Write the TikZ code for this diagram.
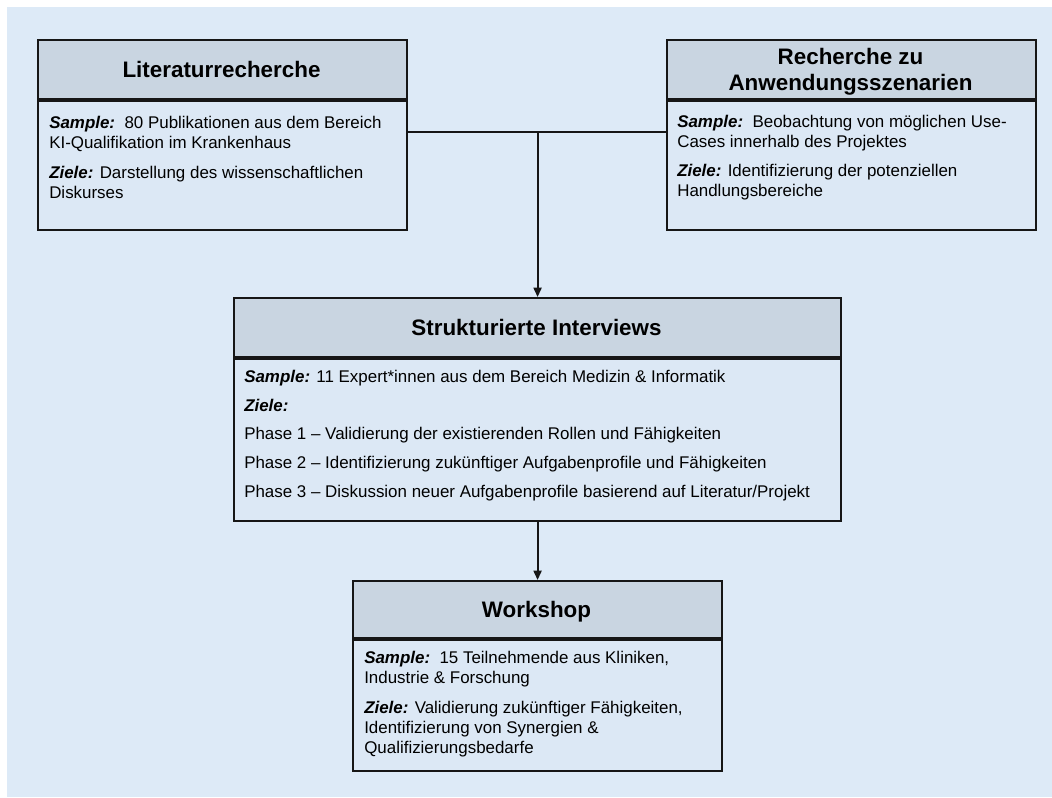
\documentclass[tikz,border=0pt]{standalone}
\usepackage{fontspec}
\setmainfont{Liberation Sans}
\usetikzlibrary{arrows.meta}
\newdimen\pxu
\pxu=0.75pt
\definecolor{canvas}{HTML}{DDEAF7}
\definecolor{headfill}{HTML}{C9D5E1}
\definecolor{bodyfill}{HTML}{DCE8F5}
\definecolor{ink}{HTML}{161616}
\tikzset{
  hdr/.style={draw=ink, fill=headfill, line width=1.6pt, anchor=north west, inner sep=0pt},
  bodybox/.style={draw=ink, fill=bodyfill, line width=1.6pt, anchor=north, inner sep=0pt},
  ttl/.style={anchor=base, inner sep=0pt, font=\fontsize{16.8}{20}\selectfont\bfseries, text=black},
  txt/.style={anchor=base west, inner sep=0pt, font=\fontsize{12.7}{15}\selectfont, text=black},
  conn/.style={draw=ink, line width=1.5pt},
  arr/.style={conn, -{Triangle[length=7pt, width=6pt]}}
}
\newcommand{\lbl}[1]{\textbf{\textit{#1}}}
\begin{document}
\begin{tikzpicture}[x=0.75pt, y=-0.75pt]
  % page and backdrop
  \useasboundingbox (0,0) rectangle (1052,797);
  \fill[white] (0,0) rectangle (1052,797);
  \fill[canvas] (7,7) rectangle (1052,797);

  % Literaturrecherche
  \node[hdr, minimum width=369\pxu, minimum height=59\pxu] (h1) at (37,39) {};
  \node[bodybox, minimum width=369\pxu, minimum height=129\pxu] (b1) at (h1.south) {};
  \node[ttl] (t1) at (221.5,77) {Literaturrecherche};
  \node[txt] (l1a) at (49,128) {\lbl{Sample:}\ \ 80 Publikationen aus dem Bereich};
  \node[txt] (l1b) at (49,148) {KI-Qualifikation im Krankenhaus};
  \node[txt] (l1c) at (49,178) {\lbl{Ziele:} Darstellung des wissenschaftlichen};
  \node[txt] (l1d) at (49,198) {Diskurses};

  % Recherche zu Anwendungsszenarien
  \node[hdr, minimum width=369\pxu, minimum height=59\pxu] (h2) at (666,39) {};
  \node[bodybox, minimum width=369\pxu, minimum height=129\pxu] (b2) at (h2.south) {};
  \node[ttl] (t2a) at (850.5,64) {Recherche zu};
  \node[ttl] (t2b) at (850.5,90) {Anwendungsszenarien};
  \node[txt] (l2a) at (677,127) {\lbl{Sample:}\ \ Beobachtung von möglichen Use-};
  \node[txt] (l2b) at (677,147) {Cases innerhalb des Projektes};
  \node[txt] (l2c) at (677,176) {\lbl{Ziele:} Identifizierung der potenziellen};
  \node[txt] (l2d) at (677,196) {Handlungsbereiche};

  % Strukturierte Interviews
  \node[hdr, minimum width=607\pxu, minimum height=59\pxu] (h3) at (233,297) {};
  \node[bodybox, minimum width=607\pxu, minimum height=162\pxu] (b3) at (h3.south) {};
  \node[ttl] (t3) at (536.5,335) {Strukturierte Interviews};
  \node[txt] (l3a) at (244,382) {\lbl{Sample:} 11 Expert*innen aus dem Bereich Medizin \& Informatik};
  \node[txt] (l3b) at (244,411) {\lbl{Ziele:}};
  \node[txt] (l3c) at (244,439) {Phase 1 – Validierung der existierenden Rollen und Fähigkeiten};
  \node[txt] (l3d) at (244,468) {Phase 2 – Identifizierung zukünftiger Aufgabenprofile und Fähigkeiten};
  \node[txt] (l3e) at (244,497) {Phase 3 – Diskussion neuer Aufgabenprofile basierend auf Literatur/Projekt};

  % Workshop
  \node[hdr, minimum width=369\pxu, minimum height=57\pxu] (h4) at (352,580) {};
  \node[bodybox, minimum width=369\pxu, minimum height=131\pxu] (b4) at (h4.south) {};
  \node[ttl] (t4) at (536.5,617) {Workshop};
  \node[txt] (l4a) at (364,663) {\lbl{Sample:}\ \ 15 Teilnehmende aus Kliniken,};
  \node[txt] (l4b) at (364,683) {Industrie \& Forschung};
  \node[txt] (l4c) at (364,713) {\lbl{Ziele:} Validierung zukünftiger Fähigkeiten,};
  \node[txt] (l4d) at (364,733) {Identifizierung von Synergien \&};
  \node[txt] (l4e) at (364,753) {Qualifizierungsbedarfe};

  % connectors
  \coordinate (j) at ([yshift=165\pxu]h3.north);
  \draw[conn] (b1.east |- j) -- (b2.west |- j);
  \draw[arr] (j) -- (h3.north);
  \draw[arr] (b3.south) -- (h4.north);
\end{tikzpicture}
\end{document}
